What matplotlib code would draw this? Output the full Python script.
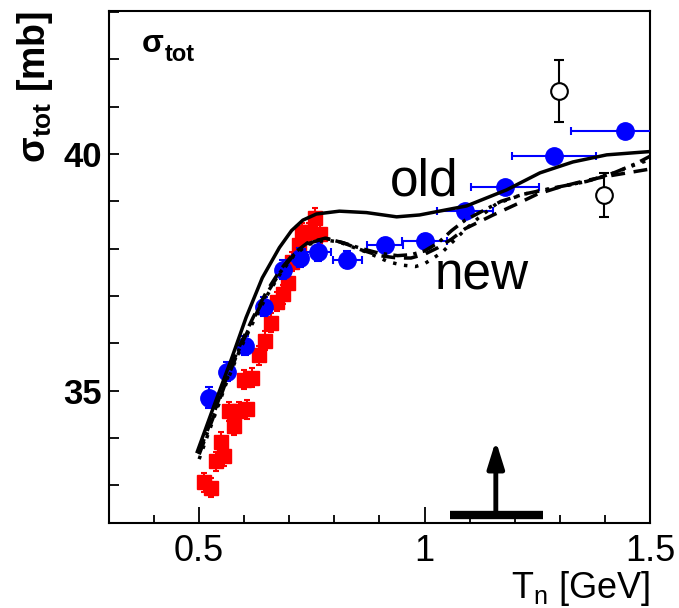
import matplotlib
matplotlib.use("Agg")
import matplotlib.pyplot as plt
from matplotlib.ticker import MultipleLocator, FixedLocator

plt.rcParams['font.family'] = ['Liberation Sans', 'DejaVu Sans']
plt.rcParams['mathtext.fontset'] = 'custom'
plt.rcParams['mathtext.rm'] = 'Liberation Sans'
plt.rcParams['mathtext.bf'] = 'Liberation Sans:bold'

# blue circles (with x and y errors)
blue_x = [0.522, 0.562, 0.602, 0.644, 0.687, 0.724, 0.764, 0.829, 0.913, 1.0, 1.089, 1.178, 1.287, 1.444]
blue_y = [34.85, 35.40, 35.95, 36.77, 37.55, 37.81, 37.93, 37.76, 38.08, 38.16, 38.80, 39.30, 39.96, 40.49]
blue_xerr = [0.008, 0.008, 0.010, 0.012, 0.014, 0.018, 0.029, 0.033, 0.04, 0.05, 0.062, 0.076, 0.093, 0.12]
blue_yerr = [0.22, 0.2, 0.2, 0.2, 0.2, 0.2, 0.2, 0.18, 0.15, 0.15, 0.12, 0.12, 0.12, 0.12]

# red squares
red_x = [0.511, 0.527, 0.538, 0.556, 0.549, 0.578, 0.567, 0.589, 0.607, 0.600, 0.618, 0.633,
         0.647, 0.660, 0.673, 0.687, 0.696, 0.707, 0.722, 0.729, 0.744, 0.767, 0.758]
red_y = [33.06, 32.95, 33.50, 33.61, 33.92, 34.26, 34.56, 34.56, 34.60, 35.23, 35.27, 35.74,
         36.05, 36.43, 36.88, 37.03, 37.28, 37.72, 38.08, 38.35, 38.35, 38.31, 38.65]
red_yerr = 0.2

# open circles
open_x = [1.298, 1.398]
open_y = [41.33, 39.13]
open_yerr = [0.65, 0.47]

# "old" calculation (solid)
old_x = [0.496, 0.533, 0.571, 0.604, 0.64, 0.678, 0.705, 0.73, 0.76, 0.811, 0.871, 0.938, 0.989,
         1.049, 1.093, 1.182, 1.256, 1.329, 1.404, 1.5]
old_y = [33.71, 34.68, 35.65, 36.54, 37.38, 38.02, 38.38, 38.6, 38.73, 38.79, 38.76, 38.67, 38.71,
         38.82, 38.9, 39.24, 39.60, 39.83, 39.98, 40.05]

# "new" calculations
dash_x = [0.50, 0.53, 0.56, 0.59, 0.62, 0.65, 0.68, 0.71, 0.74, 0.78, 0.82, 0.86, 0.90, 0.94,
          0.97, 1.00, 1.03, 1.06, 1.09, 1.15, 1.20, 1.25, 1.30, 1.35, 1.40, 1.45, 1.50]
dash_y = [33.7, 34.45, 35.25, 35.95, 36.55, 37.1, 37.55, 37.9, 38.12, 38.22, 38.12, 37.97, 37.85,
          37.8, 37.8, 37.88, 38.02, 38.2, 38.42, 38.7, 38.92, 39.15, 39.3, 39.42, 39.52, 39.6, 39.68]

dashdot_x = [0.50, 0.53, 0.56, 0.59, 0.62, 0.65, 0.68, 0.71, 0.74, 0.78, 0.82, 0.86, 0.90, 0.94,
             0.97, 1.00, 1.03, 1.06, 1.09, 1.13, 1.17, 1.22, 1.28, 1.36, 1.42, 1.47, 1.50]
dashdot_y = [33.65, 34.4, 35.2, 35.9, 36.5, 37.05, 37.5, 37.87, 38.1, 38.22, 38.12, 38.0, 37.9,
             37.85, 37.87, 37.95, 38.12, 38.38, 38.6, 38.8, 39.0, 39.15, 39.27, 39.42, 39.6, 39.8, 39.95]

dot_x = [0.50, 0.53, 0.56, 0.59, 0.62, 0.65, 0.68, 0.71, 0.74, 0.78, 0.81, 0.87, 0.92, 0.95,
         0.98, 1.00, 1.02, 1.04, 1.06, 1.09, 1.12, 1.16, 1.22, 1.30, 1.36, 1.42, 1.47, 1.50]
dot_y = [33.55, 34.35, 35.15, 35.85, 36.45, 37.0, 37.47, 37.85, 38.08, 38.18, 38.14, 37.93, 37.72,
         37.65, 37.62, 37.68, 37.8, 37.93, 38.12, 38.4, 38.65, 38.95, 39.15, 39.3, 39.42, 39.6, 39.78, 39.88]

# arrow marker at the bottom
bar_x = [1.056, 1.262]
arrow_x = 1.158
arrow_y = [32.36, 33.94]

fig = plt.figure(figsize=(6.79, 6.08), dpi=100)
ax = fig.add_axes([0.1605, 0.1398, 0.7968, 0.8421])

ax.errorbar(red_x, red_y, yerr=red_yerr, fmt='s', color='red', ms=9.5, elinewidth=1.5,
            capsize=2.5, capthick=1.5, zorder=2)
ax.errorbar(blue_x, blue_y, xerr=blue_xerr, yerr=blue_yerr, fmt='o', color='blue', ms=12.5,
            elinewidth=1.5, capsize=3, capthick=1.5, zorder=3)
ax.errorbar(open_x, open_y, yerr=open_yerr, fmt='o', mfc='white', mec='black', mew=1.5,
            ecolor='black', ms=12, elinewidth=1.5, capsize=3.5, capthick=1.5, zorder=3)

ax.plot(old_x, old_y, color='black', lw=2.5, zorder=4)
ax.plot(dash_x, dash_y, color='black', lw=2.5, ls=(0, (4, 2.5)), zorder=4)
ax.plot(dashdot_x, dashdot_y, color='black', lw=2.5, ls=(0, (4, 1.8, 1, 1.8)), zorder=4)
ax.plot(dot_x, dot_y, color='black', lw=2.5, ls=(0, (1, 2.2)), zorder=4)

ax.plot(bar_x, [arrow_y[0], arrow_y[0]], color='black', lw=6, solid_capstyle='butt', zorder=5)
ax.annotate('', xy=(arrow_x, arrow_y[1]), xytext=(arrow_x, arrow_y[0]),
            arrowprops=dict(arrowstyle='-|>,head_length=0.8,head_width=0.25', lw=3.5,
                            color='black', mutation_scale=20, shrinkA=0, shrinkB=0), zorder=5)

ax.text(0.922, 39.13, 'old', fontsize=37)
ax.text(1.022, 37.13, 'new', fontsize=37)
ax.text(0.061, 0.92, 'σ', transform=ax.transAxes, fontsize=23, fontweight='bold')
ax.text(0.104, 0.903, 'tot', transform=ax.transAxes, fontsize=17, fontweight='bold')

ax.set_xlim(0.3, 1.5)
ax.set_ylim(32.2, 43.02)
ax.xaxis.set_major_locator(FixedLocator([0.5, 1.0, 1.5]))
ax.xaxis.set_minor_locator(MultipleLocator(0.1))
ax.yaxis.set_major_locator(FixedLocator([35, 40]))
ax.yaxis.set_minor_locator(MultipleLocator(1))
ax.set_xticklabels(['0.5', '1', '1.5'])
ax.tick_params(axis='x', which='major', direction='in', length=11.5, width=1.3, labelsize=26, pad=8)
ax.tick_params(axis='x', which='minor', direction='in', length=6, width=1.3)
ax.tick_params(axis='y', which='both', direction='in', length=7, width=1.3, labelsize=25, pad=5)
for lab in ax.get_yticklabels():
    lab.set_fontweight('bold')
for s in ax.spines.values():
    s.set_linewidth(1.5)

fig.text(0.052, 0.982, r'σ$_{\mathbf{tot}}$ [mb]', rotation=90, ha='center', va='top',
         fontsize=27, fontweight='bold')
fig.text(650 / 679, 0.016, r'T$_{\mathrm{n}}$ [GeV]', ha='right', va='baseline', fontsize=26)

fig.savefig('out.png', dpi=100)
